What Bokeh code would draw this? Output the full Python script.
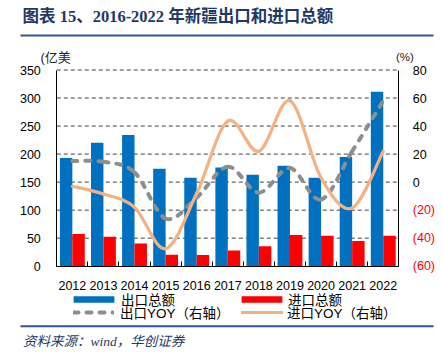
import numpy as np
from bokeh.plotting import figure
from bokeh.models import (Range1d, LinearAxis, FixedTicker, Label, Legend, LegendItem,
                          BoxAnnotation, ColumnDataSource)
from bokeh.transform import dodge
from bokeh.embed import file_html
from bokeh.resources import INLINE

# ---------------- data ----------------
title_text = "图表 15、2016-2022 年新疆出口和进口总额"
source_text = "资料来源：wind，华创证券"
left_unit = "(亿美"
right_unit = "(%)"

years = ["2012", "2013", "2014", "2015", "2016", "2017", "2018", "2019", "2020", "2021", "2022"]
export_total = [193, 220, 234, 174, 158, 176, 163, 179, 158, 195, 311]
import_total = [57.5, 52.5, 40.5, 20.5, 20, 28, 35.5, 55.5, 54.5, 45, 54.5]
export_yoy = [15, 14.5, 7, -26, -11, 11, -7.5, 10, -12.5, 22, 58]
import_yoy = [-3, -8.5, -18, -47.5, -8, 43.5, 22, 58, 3, -18.5, 22]

series_names = ["出口总额", "进口总额", "出口YOY（右轴）", "进口YOY（右轴）"]

left_ticks = [0, 50, 100, 150, 200, 250, 300, 350]
right_pos_ticks = [0, 20, 40, 60, 80]
right_neg_ticks = [-20, -40, -60]
right_neg_labels = ["(20)", "(40)", "(60)"]

# ---------------- style ----------------
BLUE = "#0070C0"
RED = "#FF0000"
GREY = "#8E8E8E"
ORANGE = "#F4B183"
NAVY = "#1F3864"
RULE = "#2E5696"
NUM_FONT = "Liberation Sans"
CJK_FONT = "Liberation Sans, Noto Sans CJK SC"
TITLE_FONT = "Liberation Serif, Noto Sans CJK SC"
TICK_SIZE = "12.5px"

W, H = 443, 358
# canvas pixels of the chart area (the frame fills the whole canvas)
PLOT_L, PLOT_R, PLOT_T, PLOT_B = 56.3, 398.3, 69.5, 265.7

n = len(years)
idx = list(range(n))
x_lo, x_hi = -0.5, n - 0.5
y_lo, y_hi = left_ticks[0], left_ticks[-1]
r_lo, r_hi = right_neg_ticks[-1], right_pos_ticks[-1]

kx = (PLOT_R - PLOT_L) / (x_hi - x_lo)
ky = (PLOT_B - PLOT_T) / (y_hi - y_lo)
kr = (PLOT_B - PLOT_T) / (r_hi - r_lo)

p = figure(width=W, height=H, output_backend="svg", toolbar_location=None, title=None,
           x_range=Range1d(x_lo - PLOT_L / kx, x_hi + (W - PLOT_R) / kx),
           y_range=Range1d(y_lo - (H - PLOT_B) / ky, y_hi + PLOT_T / ky),
           min_border=0)
p.extra_y_ranges = {"yoy": Range1d(r_lo - (H - PLOT_B) / kr, r_hi + PLOT_T / kr)}
p.outline_line_color = None
p.background_fill_color = "white"
p.border_fill_color = "white"
p.xgrid.visible = False
p.ygrid.visible = False


def style_axis(ax, standoff, color="black"):
    ax.major_tick_in = 0
    ax.major_tick_out = 0
    ax.minor_tick_in = 0
    ax.minor_tick_out = 0
    ax.axis_line_color = "black"
    ax.axis_line_width = 1
    ax.major_label_standoff = standoff
    ax.major_label_text_font = NUM_FONT
    ax.major_label_text_font_size = TICK_SIZE
    ax.major_label_text_color = color


# x axis
xa = p.xaxis[0]
style_axis(xa, 15)
xa.fixed_location = y_lo
xa.bounds = (x_lo, x_hi)
xa.ticker = FixedTicker(ticks=idx, minor_ticks=[i - 0.5 for i in range(n + 1)])
xa.major_label_overrides = {i: y for i, y in enumerate(years)}
xa.minor_tick_in = 5
xa.minor_tick_line_color = "black"

# left axis
ya = p.yaxis[0]
style_axis(ya, 16)
ya.fixed_location = x_lo
ya.bounds = (y_lo, y_hi)
ya.ticker = FixedTicker(ticks=left_ticks)

# right axis: positive labels black, negative labels red in parentheses
ra = LinearAxis(y_range_name="yoy", ticker=FixedTicker(ticks=right_pos_ticks),
                fixed_location=x_hi, bounds=(r_lo, r_hi))
style_axis(ra, 14)
p.add_layout(ra, "right")
ra_neg = LinearAxis(y_range_name="yoy", ticker=FixedTicker(ticks=right_neg_ticks),
                    fixed_location=x_hi, bounds=(r_lo, r_hi),
                    major_label_overrides={t: s for t, s in zip(right_neg_ticks, right_neg_labels)})
style_axis(ra_neg, 14, RED)
ra_neg.axis_line_color = None
p.add_layout(ra_neg, "right")

# dashed horizontal gridlines at the left-axis ticks (behind the bars)
p.segment(x0=x_lo, x1=x_hi, y0=left_ticks[1:], y1=left_ticks[1:],
          line_color="#404040", line_width=1, line_dash="4 3")

# bars
src = ColumnDataSource(dict(idx=idx, export_total=export_total, import_total=import_total))
r_exp = p.vbar(x=dodge("idx", -0.2, range=p.x_range), top="export_total", width=0.4,
               source=src, fill_color=BLUE, line_color=None)
r_imp = p.vbar(x=dodge("idx", 0.2, range=p.x_range), top="import_total", width=0.4,
               source=src, fill_color=RED, line_color=None)


# smoothed YOY lines (Catmull-Rom bezier through the read points)
def smooth(vals):
    xs = np.arange(len(vals), dtype=float)
    ys = np.asarray(vals, dtype=float)
    xp = np.concatenate([[xs[0]], xs, [xs[-1]]])
    yp = np.concatenate([[ys[0]], ys, [ys[-1]]])
    m = len(vals)
    return dict(
        x0=xs[:-1], y0=ys[:-1], x1=xs[1:], y1=ys[1:],
        cx0=xs[:-1] + (xp[2:m + 1] - xp[0:m - 1]) / 6.0,
        cy0=ys[:-1] + (yp[2:m + 1] - yp[0:m - 1]) / 6.0,
        cx1=xs[1:] - (xp[3:m + 2] - xp[1:m]) / 6.0,
        cy1=ys[1:] - (yp[3:m + 2] - yp[1:m]) / 6.0,
    )


r_eyoy = p.bezier(source=ColumnDataSource(smooth(export_yoy)), x0="x0", y0="y0", x1="x1", y1="y1",
                  cx0="cx0", cy0="cy0", cx1="cx1", cy1="cy1", y_range_name="yoy",
                  line_color=GREY, line_width=4, line_dash="5 8", line_cap="round")
r_iyoy = p.bezier(source=ColumnDataSource(smooth(import_yoy)), x0="x0", y0="y0", x1="x1", y1="y1",
                  cx0="cx0", cy0="cy0", cx1="cx1", cy1="cy1", y_range_name="yoy",
                  line_color=ORANGE, line_width=3.2, line_cap="round")


# legends (one per entry so every entry sits where the reference has it)
def add_legend(renderer, label, x, y, gw, gh, standoff):
    lg = Legend(items=[LegendItem(label=label, renderers=[renderer])], location=(x, y),
                glyph_width=gw, glyph_height=gh, label_standoff=standoff, label_height=14,
                padding=0, margin=0, spacing=0, border_line_color=None,
                background_fill_alpha=0, label_text_font=CJK_FONT,
                label_text_font_size="13.5px", label_text_color="black")
    p.add_layout(lg, "center")


add_legend(r_exp, series_names[0], 68, 49.5, 51, 8, 2)
add_legend(r_imp, series_names[1], 236, 49.5, 51, 8, 1)
add_legend(r_eyoy, series_names[2], 73, 36, 41, 14, 6)
add_legend(r_iyoy, series_names[3], 241, 36, 42, 14, 4)

# title, units, source (screen units from the canvas bottom-left)
p.add_layout(Label(x=22, y=342, x_units="screen", y_units="screen", text=title_text,
                   text_font=TITLE_FONT, text_font_style="bold", text_font_size="16.5px",
                   text_color=NAVY, text_baseline="middle"))
p.add_layout(Label(x=40, y=301.3, x_units="screen", y_units="screen", text=left_unit,
                   text_font=CJK_FONT, text_font_size="13px", text_color="#222222",
                   text_baseline="middle"))
p.add_layout(Label(x=395.5, y=302, x_units="screen", y_units="screen", text=right_unit,
                   text_font=NUM_FONT, text_font_size="11.5px", text_color="#222222",
                   text_baseline="middle"))
p.add_layout(Label(x=22.5, y=17.3, x_units="screen", y_units="screen", text=source_text,
                   text_font=TITLE_FONT, text_font_style="italic", text_font_size="13.5px",
                   text_color=NAVY, text_baseline="middle"))

# rules under the title and above the source
for top in (324, 33.3):
    p.add_layout(BoxAnnotation(left=20, right=433, top=top, bottom=top - 2,
                               left_units="screen", right_units="screen",
                               top_units="screen", bottom_units="screen",
                               fill_color=RULE, fill_alpha=1, line_color=None))

open("out.html", "w").write(file_html(p, INLINE))
